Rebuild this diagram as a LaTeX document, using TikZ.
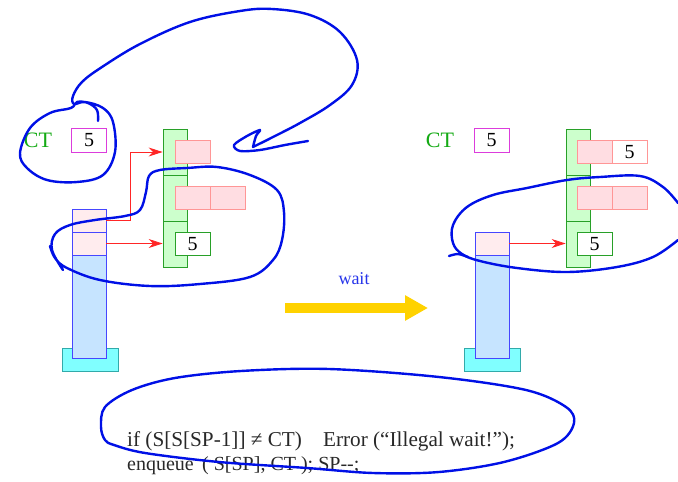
\documentclass[tikz,border=0pt]{standalone}
\usepackage{fontspec}
\setmainfont{Liberation Serif}
\usetikzlibrary{arrows.meta}
\definecolor{gfill}{RGB}{204,255,204}
\definecolor{gline}{RGB}{40,160,40}
\definecolor{pfill}{RGB}{255,221,226}
\definecolor{pline}{RGB}{255,150,150}
\definecolor{sfill}{RGB}{198,228,255}
\definecolor{sline}{RGB}{70,70,255}
\definecolor{tfill}{RGB}{255,236,238}
\definecolor{cfill}{RGB}{128,255,255}
\definecolor{cline}{RGB}{50,170,170}
\definecolor{mline}{RGB}{220,60,220}
\definecolor{ctgreen}{RGB}{20,170,20}
\definecolor{penblue}{RGB}{0,16,230}
\definecolor{yarrow}{RGB}{255,210,0}
\definecolor{codegray}{RGB}{40,40,40}
\begin{document}
\begin{tikzpicture}[x=1pt,y=-1pt,
  box/.style={draw, inner sep=0pt, line width=0.8pt},
  gcell/.style={box, draw=gline, fill=gfill, minimum width=24pt, minimum height=46pt},
  pbox/.style={box, draw=pline, fill=pfill, minimum width=35pt, minimum height=23pt},
  pwbox/.style={box, draw=pline, fill=white, minimum width=35pt, minimum height=23pt, font=\fontsize{20}{20}\selectfont},
  vbox/.style={box, draw=gline, fill=white, minimum width=35pt, minimum height=23pt, font=\fontsize{20}{20}\selectfont},
  mbox/.style={box, draw=mline, fill=white, minimum width=35pt, minimum height=24pt, font=\fontsize{20}{20}\selectfont},
  tcell/.style={box, draw=sline, fill=tfill, minimum width=34pt, minimum height=23pt},
  scell/.style={box, draw=sline, fill=sfill, minimum width=34pt, minimum height=103pt},
  base/.style={box, draw=cline, fill=cfill, minimum width=56pt, minimum height=23pt},
  ctlabel/.style={text=ctgreen, font=\fontsize{22}{22}\selectfont, inner sep=0pt},
  redarrow/.style={draw=red!85!white, line width=0.8pt, -{Stealth[length=14pt,width=9pt]}},
  pen/.style={draw=penblue, line width=2.4pt, line cap=round, line join=round},
  codetext/.style={text=codegray, font=\fontsize{20}{20}\selectfont, anchor=west, inner sep=0pt}
]
\useasboundingbox (0,0) rectangle (678,482);

% ---------- left diagram ----------
\node[ctlabel] (ctL) at (38,140) {CT};
\node[mbox] (mL) at (89,140) {5};
\node[gcell] (gL1) at (175,152) {};
\node[gcell] (gL2) at (175,198) {};
\node[gcell] (gL3) at (175,244) {};
\node[pbox] (pL1) at (192.5,152) {};
\node[pbox] (pL2a) at (192.5,198) {};
\node[pbox] (pL2b) at (227.5,198) {};
\node[vbox] (vL) at (192.5,244) {5};
\node[base] (bL) at (90,359.5) {};
\node[scell] (sL3) at (89,306.5) {};
\node[tcell] (sL2) at (89,243.5) {};
\node[tcell] (sL1) at (89,220.5) {};
\draw[redarrow] (sL1.east) -- (130,220.5) |- (gL1.west);
\draw[redarrow] (sL2.east) -- (sL2.east -| gL3.west);

% ---------- right diagram ----------
\node[ctlabel] (ctR) at (440,140) {CT};
\node[mbox] (mR) at (491.5,140) {5};
\node[gcell] (gR1) at (578,152) {};
\node[gcell] (gR2) at (578,198) {};
\node[gcell] (gR3) at (578,244) {};
\node[pbox] (pR1a) at (594.5,152) {};
\node[pwbox] (pR1b) at (629.5,152) {5};
\node[pbox] (pR2a) at (594.5,198) {};
\node[pbox] (pR2b) at (629.5,198) {};
\node[vbox] (vR) at (594.5,244) {5};
\node[base] (bR) at (492,359.5) {};
\node[scell] (sR3) at (492,306.5) {};
\node[tcell] (sR1) at (492,243.5) {};
\draw[redarrow] (sR1.east) -- (sR1.east -| gR3.west);

% ---------- wait arrow ----------
\coordinate (ya) at (285,308);
\coordinate (yb) at (428,308);
\draw[draw=yarrow, line width=10pt, -{Triangle[length=23pt,width=24pt]}] (ya) -- (yb);
\node[text=penblue!85!white, font=\fontsize{18}{18}\selectfont, inner sep=0pt] (wait) at (354,279) {wait};

% ---------- code ----------
\node[codetext, font=\fontsize{21.2}{21.2}\selectfont] (code1) at (127,441) {if (S[S[SP-1]] ≠ CT)\hspace{1em}Error (“Illegal wait!”);};
\node[codetext] (code2) at (127,466) {enqueue\, ( S[SP], CT ); SP-{}-;};

% ---------- pen annotations ----------
\draw[pen] plot[smooth, tension=0.6] coordinates {(98,121) (97,110) (88,103) (77,102) (71,108) (50,113) (30,128) (20,153) (27,168) (47,180) (77,182) (103,175) (115,152) (113,122) (103,108) (85,102) (74,104) (73,96) (82,82) (102,67) (140,44) (190,22) (240,11) (272,9) (310,15) (340,32) (357,60) (352,85) (330,105) (300,123) (275,136) (253,147)};
\draw[pen] plot[smooth, tension=0.5] coordinates {(253,147) (256,136) (260,130) (247,136) (234,145) (240,151) (260,150) (285,145) (308,141)};

\draw[pen] plot[smooth, tension=0.6] coordinates {(63,270) (52,250) (55,234) (70,225) (95,220) (125,216) (140,210) (146,192) (149,176) (160,170) (187,168) (217,167) (250,175) (277,190) (284,212) (282,240) (273,260) (250,277) (200,284) (150,286) (100,280) (67,268) (55,258) (50,246)};

\draw[pen] plot[smooth, tension=0.6] coordinates {(678,203) (663,187) (640,176) (600,177) (567,180) (527,188) (493,195) (467,207) (453,225) (453,243) (462,254) (480,261) (517,268) (567,272) (617,267) (653,257) (678,240)};
\draw[pen] plot[smooth, tension=0.5] coordinates {(449,256) (458,254) (468,257)};

\draw[pen] plot[smooth cycle, tension=0.55] coordinates {(101,427) (105,440) (114,445) (145,453) (219,462) (307,468) (373,473) (439,472) (504,462) (558,443) (574,423) (566,407) (526,390) (439,377) (329,369) (241,371) (175,378) (132,390) (105,407)};
\end{tikzpicture}
\end{document}
